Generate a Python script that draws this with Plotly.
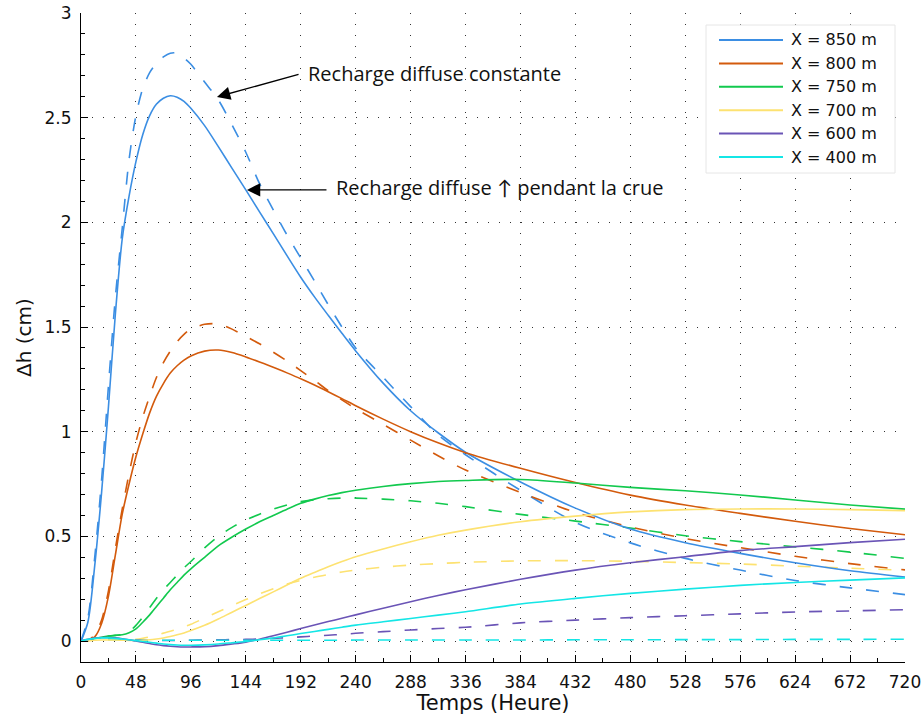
import plotly.graph_objects as go

# Time axis (hours) shared by all series
T = [0, 6, 12, 18, 24, 30, 36, 42, 48, 54, 60, 66, 72, 78, 84, 90, 96,
     108, 120, 132, 144, 156, 168, 180, 192, 204, 216, 228, 240,
     264, 288, 312, 336,
     384, 432, 480, 528, 576, 624, 672, 720]

# Head rise (cm), recharge increased during the flood (solid lines)
h850_crue = [0, 0.09, 0.36, 0.71, 1.12, 1.56, 1.92, 2.125, 2.29, 2.42, 2.51, 2.565, 2.593, 2.605, 2.598, 2.578, 2.545,
             2.462, 2.362, 2.258, 2.155, 2.05, 1.946, 1.841, 1.738, 1.644, 1.556, 1.47, 1.386,
             1.232, 1.10, 0.995, 0.902,
             0.76, 0.635, 0.535, 0.47, 0.419, 0.374, 0.336, 0.306]
h800_crue = [0, 0.002, 0.02, 0.084, 0.215, 0.41, 0.605, 0.75, 0.88, 0.99, 1.09, 1.17, 1.23, 1.28, 1.315, 1.342, 1.362,
             1.385, 1.39, 1.378, 1.357, 1.333, 1.308, 1.281, 1.253, 1.223, 1.191, 1.158, 1.124,
             1.06, 1.0, 0.947, 0.9,
             0.825, 0.757, 0.697, 0.65, 0.61, 0.572, 0.538, 0.508]
h750_crue = [0, 0.005, 0.012, 0.018, 0.024, 0.027, 0.03, 0.04, 0.058, 0.09, 0.125, 0.165, 0.205, 0.245, 0.28, 0.315, 0.345,
             0.40, 0.455, 0.497, 0.535, 0.57, 0.60, 0.63, 0.658, 0.678, 0.695, 0.709, 0.72,
             0.738, 0.752, 0.762, 0.767,
             0.772, 0.755, 0.734, 0.718, 0.698, 0.674, 0.65, 0.63]
h700_crue = [0, 0.002, 0.004, 0.005, 0.005, 0.005, 0.004, 0.003, 0.003, 0.004, 0.006, 0.01, 0.015, 0.022, 0.03, 0.039, 0.05,
             0.075, 0.105, 0.138, 0.17, 0.203, 0.235, 0.268, 0.30, 0.328, 0.355, 0.38, 0.403,
             0.44, 0.474, 0.505, 0.53,
             0.57, 0.597, 0.617, 0.628, 0.631, 0.631, 0.628, 0.623]
h600_crue = [0, 0.008, 0.014, 0.017, 0.017, 0.015, 0.011, 0.006, 0.0, -0.006, -0.012, -0.018, -0.022, -0.025, -0.027, -0.028, -0.028,
             -0.027, -0.022, -0.014, -0.005, 0.009, 0.025, 0.042, 0.06, 0.077, 0.093, 0.109, 0.125,
             0.157, 0.188, 0.218, 0.245,
             0.295, 0.339, 0.374, 0.403, 0.432, 0.451, 0.47, 0.486]
h400_crue = [0, 0.008, 0.013, 0.015, 0.015, 0.013, 0.01, 0.006, 0.002, -0.002, -0.006, -0.01, -0.014, -0.017, -0.019, -0.02, -0.02,
             -0.018, -0.014, -0.008, -0.002, 0.006, 0.015, 0.025, 0.036, 0.046, 0.056, 0.066, 0.076,
             0.092, 0.108, 0.124, 0.14,
             0.177, 0.204, 0.228, 0.248, 0.266, 0.28, 0.291, 0.302]

# Head rise (cm), constant diffuse recharge (dashed lines)
h850_const = [0, 0.11, 0.40, 0.77, 1.22, 1.64, 1.97, 2.30, 2.51, 2.64, 2.715, 2.76, 2.79, 2.808, 2.808, 2.785, 2.755,
              2.67, 2.585, 2.465, 2.335, 2.185, 2.06, 1.94, 1.83, 1.72, 1.607, 1.50, 1.40,
              1.26, 1.12, 0.985, 0.89,
              0.72, 0.567, 0.469, 0.395, 0.339, 0.289, 0.254, 0.222]
h800_const = [0, 0.002, 0.03, 0.10, 0.24, 0.44, 0.63, 0.80, 0.95, 1.07, 1.17, 1.26, 1.33, 1.385, 1.43, 1.465, 1.49,
              1.513, 1.515, 1.49, 1.455, 1.42, 1.38, 1.338, 1.292, 1.245, 1.196, 1.152, 1.11,
              1.035, 0.96, 0.885, 0.817,
              0.71, 0.615, 0.545, 0.49, 0.446, 0.405, 0.37, 0.34]
h750_const = [0, 0.005, 0.012, 0.018, 0.024, 0.027, 0.032, 0.045, 0.075, 0.115, 0.16, 0.205, 0.245, 0.28, 0.315, 0.35, 0.38,
              0.445, 0.50, 0.543, 0.578, 0.606, 0.63, 0.65, 0.666, 0.675, 0.68, 0.683, 0.683,
              0.678, 0.67, 0.658, 0.642,
              0.605, 0.573, 0.54, 0.503, 0.475, 0.45, 0.425, 0.395]
h700_const = [0, 0.002, 0.004, 0.005, 0.005, 0.005, 0.005, 0.006, 0.008, 0.013, 0.02, 0.029, 0.038, 0.047, 0.057, 0.068, 0.08,
              0.11, 0.14, 0.17, 0.198, 0.225, 0.25, 0.272, 0.29, 0.305, 0.318, 0.33, 0.339,
              0.353, 0.363, 0.37, 0.376,
              0.383, 0.384, 0.381, 0.375, 0.368, 0.358, 0.348, 0.338]
h600_const = [0, 0.005, 0.008, 0.01, 0.01, 0.009, 0.008, 0.007, 0.006, 0.005, 0.004, 0.003, 0.003, 0.003, 0.003, 0.003, 0.004,
              0.005, 0.006, 0.007, 0.008, 0.01, 0.013, 0.016, 0.02, 0.024, 0.028, 0.032, 0.037,
              0.045, 0.053, 0.06, 0.066,
              0.087, 0.10, 0.112, 0.121, 0.13, 0.139, 0.144, 0.15]
h400_const = [0, 0.004, 0.007, 0.008, 0.008, 0.007, 0.006, 0.005, 0.004, 0.004, 0.004, 0.004, 0.004, 0.004, 0.004, 0.004, 0.004,
              0.004, 0.004, 0.004, 0.004, 0.004, 0.004, 0.004, 0.004, 0.004, 0.004, 0.004, 0.005,
              0.005, 0.005, 0.005, 0.005,
              0.005, 0.006, 0.006, 0.007, 0.007, 0.008, 0.008, 0.009]

NAMES = ["X = 850 m", "X = 800 m", "X = 750 m", "X = 700 m", "X = 600 m", "X = 400 m"]
COLORS = ["#3b8ee3", "#d35a0c", "#12c94e", "#fde271", "#6a54b6", "#14e6e6"]
CRUE = [h850_crue, h800_crue, h750_crue, h700_crue, h600_crue, h400_crue]
CONST = [h850_const, h800_const, h750_const, h700_const, h600_const, h400_const]

X_TICKS = [0, 48, 96, 144, 192, 240, 288, 336, 384, 432, 480, 528, 576, 624, 672, 720]
Y_TICKS = [0, 0.5, 1, 1.5, 2, 2.5, 3]
Y_LABELS = ["0", "0.5", "1", "1.5", "2", "2.5", "3"]

AXIS_FONT = "DejaVu Sans, Verdana, sans-serif"
NOTE_FONT = "Open Sans, Lato, sans-serif"

fig = go.Figure()

# dashed: constant recharge, drawn first so the solid curves sit on top
for name, color, ys in zip(NAMES, COLORS, CONST):
    fig.add_trace(go.Scatter(x=T, y=ys, mode="lines", name=name + " (constante)",
                             line=dict(color=color, width=1.6, dash="13px,14px", shape="spline", smoothing=0.8),
                             showlegend=False))
for name, color, ys in zip(NAMES, COLORS, CRUE):
    fig.add_trace(go.Scatter(x=T, y=ys, mode="lines", name=name,
                             line=dict(color=color, width=1.6, shape="spline", smoothing=0.8),
                             showlegend=False))

# plot-area geometry in pixels, used to place the hand-built legend
PX_L, PX_R, PX_T, PX_B = 81, 905, 13, 662


def px(xp):
    return (xp - PX_L) / (PX_R - PX_L)


def py(yp):
    return (PX_B - yp) / (PX_B - PX_T)


shapes = [dict(type="rect", xref="paper", yref="paper",
               x0=px(706), x1=px(895), y0=py(173), y1=py(25),
               fillcolor="white", line=dict(color="#e6e6e6", width=1), layer="above")]
annotations = []
for i, (name, color) in enumerate(zip(NAMES, COLORS)):
    yy = py(40 + 23.4 * i)
    shapes.append(dict(type="line", xref="paper", yref="paper", x0=px(719), x1=px(783), y0=yy, y1=yy,
                       line=dict(color=color, width=2), layer="above"))
    annotations.append(dict(xref="paper", yref="paper", x=px(789), y=yy, text=name, showarrow=False,
                            xanchor="left", yanchor="middle",
                            font=dict(family=AXIS_FONT, size=16, color="#111")))

# arrows pointing at the two blue curves
annotations.append(dict(x=118.8, y=2.599, ax=191.4, ay=2.709, xref="x", yref="y", axref="x", ayref="y",
                        text="", showarrow=True, arrowhead=2, arrowsize=1.9, arrowwidth=1.4, arrowcolor="black"))
annotations.append(dict(x=145.0, y=2.155, ax=215.8, ay=2.155, xref="x", yref="y", axref="x", ayref="y",
                        text="", showarrow=True, arrowhead=2, arrowsize=1.9, arrowwidth=1.4, arrowcolor="black"))
annotations.append(dict(x=197.0, y=2.71, xref="x", yref="y", text="Recharge diffuse constante",
                        showarrow=False, xanchor="left", yanchor="middle",
                        font=dict(family=NOTE_FONT, size=20, color="#111")))
annotations.append(dict(x=221.0, y=2.165, xref="x", yref="y", text="Recharge diffuse \u2191 pendant la crue",
                        showarrow=False, xanchor="left", yanchor="middle",
                        font=dict(family=NOTE_FONT, size=20, color="#111")))

GRID = dict(showgrid=True, gridcolor="rgba(0,0,0,0.8)", gridwidth=1, griddash="1px,10px")

fig.update_layout(
    width=922, height=722,
    margin=dict(l=PX_L, r=922 - PX_R, t=PX_T, b=722 - PX_B),
    paper_bgcolor="white", plot_bgcolor="white",
    showlegend=False,
    shapes=shapes, annotations=annotations,
    xaxis=dict(range=[0, 720], tickmode="array", tickvals=X_TICKS, ticktext=[str(v) for v in X_TICKS],
               ticks="inside", ticklen=7, tickwidth=1, tickcolor="black", automargin=False,
               minor=dict(dtick=24, tick0=0, ticks="inside", ticklen=4, tickcolor="black", showgrid=False),
               showline=True, linecolor="black", linewidth=1.2, zeroline=False,
               tickfont=dict(family=AXIS_FONT, size=17, color="#111"), ticklabelstandoff=4,
               title=dict(text="Temps (Heure)", font=dict(family=AXIS_FONT, size=21, color="#111"), standoff=4),
               **GRID),
    yaxis=dict(range=[-0.1, 3], tickmode="array", tickvals=Y_TICKS, ticktext=Y_LABELS,
               ticks="inside", ticklen=7, tickwidth=1, tickcolor="black", automargin=False,
               minor=dict(dtick=0.1, tick0=0, ticks="inside", ticklen=4, tickcolor="black", showgrid=False),
               showline=True, linecolor="black", linewidth=1.2, zeroline=False,
               tickfont=dict(family=AXIS_FONT, size=17, color="#111"), ticklabelstandoff=5,
               title=dict(text="\u0394h (cm)", font=dict(family=AXIS_FONT, size=20, color="#111"), standoff=7),
               **GRID),
)

fig.write_html("out.html")
